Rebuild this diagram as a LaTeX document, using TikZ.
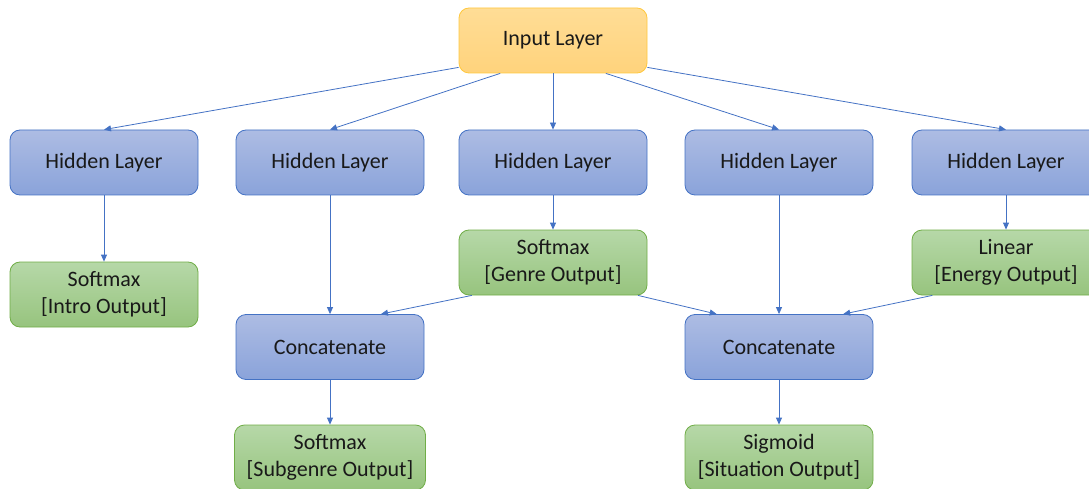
\documentclass[tikz,border=0pt]{standalone}
\usepackage{fontspec}
\setmainfont{Carlito}
\usetikzlibrary{arrows.meta,calc}
\definecolor{bluetop}{HTML}{ADBCE3}
\definecolor{bluebot}{HTML}{8AA3DA}
\definecolor{blueline}{HTML}{4472C4}
\definecolor{greentop}{HTML}{B6D8A8}
\definecolor{greenbot}{HTML}{97C47E}
\definecolor{greenline}{HTML}{70AD47}
\definecolor{orangetop}{HTML}{FFDD96}
\definecolor{orangebot}{HTML}{FFD37C}
\definecolor{orangeline}{HTML}{FFC83D}
\tikzset{
  boxbase/.style={minimum width=188pt, minimum height=65pt, rounded corners=10pt,
    align=center, inner sep=0pt, line width=0.8pt,
    font=\fontsize{22}{27}\selectfont, text=black!90},
  bluebox/.style={boxbase, draw=blueline, top color=bluetop, bottom color=bluebot},
  greenbox/.style={boxbase, draw=greenline, top color=greentop, bottom color=greenbot},
  orangebox/.style={boxbase, draw=orangeline, top color=orangetop, bottom color=orangebot},
  conn/.style={draw=blueline, line width=0.8pt, -{Triangle[length=7pt,width=6pt]}}
}
\begin{document}
\begin{tikzpicture}[x=1pt,y=-1pt]
\useasboundingbox (0,0) rectangle (1089,489);
\node[orangebox] (in) at (553,40.5) {\raisebox{-1.5pt}{Input Layer}};
\node[bluebox] (h1) at (104,162.5) {\raisebox{-1.5pt}{Hidden Layer}};
\node[bluebox] (h2) at (330,162.5) {\raisebox{-1.5pt}{Hidden Layer}};
\node[bluebox] (h3) at (553,162.5) {\raisebox{-1.5pt}{Hidden Layer}};
\node[bluebox] (h4) at (779,162.5) {\raisebox{-1.5pt}{Hidden Layer}};
\node[bluebox] (h5) at (1006,162.5) {\raisebox{-1.5pt}{Hidden Layer}};
\node[greenbox] (intro) at (104,294.5) {Softmax\\{[}Intro Output{]}};
\node[greenbox] (genre) at (553,262.5) {Softmax\\{[}Genre Output{]}};
\node[greenbox] (energy) at (1006,262.5) {Linear\\{[}Energy Output{]}};
\node[bluebox] (c1) at (330,347) {\raisebox{-1.5pt}{Concatenate}};
\node[bluebox] (c2) at (779,347) {\raisebox{-1.5pt}{Concatenate}};
\node[greenbox, minimum width=191pt] (sub) at (330,457.5) {Softmax\\{[}Subgenre Output{]}};
\node[greenbox] (sit) at (779,457.5) {Sigmoid\\{[}Situation Output{]}};
% input to hidden
\coordinate (o1) at ($(in.south west)+(0,-6)$);
\coordinate (o2) at ($(in.south west)!0.22!(in.south east)$);
\coordinate (o4) at ($(in.south west)!0.78!(in.south east)$);
\coordinate (o5) at ($(in.south east)+(0,-6)$);
\draw[conn] (o1) -- (h1.north);
\draw[conn] (o2) -- (h2.north);
\draw[conn] (in.south) -- (h3.north);
\draw[conn] (o4) -- (h4.north);
\draw[conn] (o5) -- (h5.north);
% hidden down
\draw[conn] (h1.south) -- (intro.north);
\draw[conn] (h2.south) -- (c1.north);
\draw[conn] (h3.south) -- (genre.north);
\draw[conn] (h4.south) -- (c2.north);
\draw[conn] (h5.south) -- (energy.north);
% cross
\coordinate (g1) at ($(genre.south west)!0.07!(genre.south east)$);
\coordinate (g2) at ($(genre.south west)!0.95!(genre.south east)$);
\coordinate (e1) at ($(energy.south west)!0.11!(energy.south east)$);
\coordinate (c1t) at ($(c1.north west)!0.77!(c1.north east)$);
\coordinate (c2t) at ($(c2.north west)!0.17!(c2.north east)$);
\coordinate (c2r) at ($(c2.north west)!0.84!(c2.north east)$);
\draw[conn] (g1) -- (c1t);
\draw[conn] (g2) -- (c2t);
\draw[conn] (e1) -- (c2r);
% concat down
\draw[conn] (c1.south) -- (sub.north);
\draw[conn] (c2.south) -- (sit.north);
\end{tikzpicture}
\end{document}
